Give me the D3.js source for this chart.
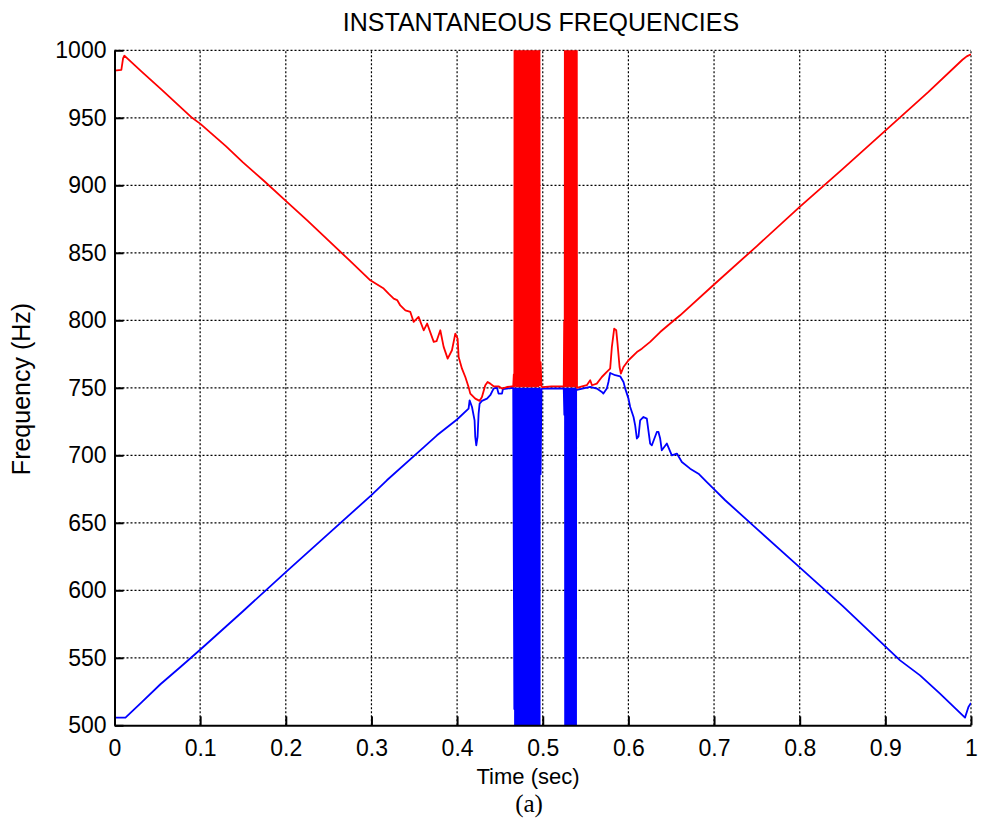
<!DOCTYPE html>
<html>
<head>
<meta charset="utf-8">
<script src="https://cdn.jsdelivr.net/npm/d3@7"></script>
<style>
  html, body { margin: 0; padding: 0; background: #fff; }
  svg { display: block; }
  .tick text { font-family: "Liberation Sans", Arial, sans-serif; }
</style>
</head>
<body>
<svg id="chart" width="981" height="828"></svg>
<script>
// Time axis ticks and frequency axis ticks
const xTicks = [0, 0.1, 0.2, 0.3, 0.4, 0.5, 0.6, 0.7, 0.8, 0.9, 1];
const yTicks = [500, 550, 600, 650, 700, 750, 800, 850, 900, 950, 1000];

// Upper instantaneous-frequency estimate (red)
const redTime = [
  0.000, 0.008, 0.010, 0.0115, 0.032, 0.0556, 0.0906, 0.1003, 0.130, 0.150,
  0.175, 0.200, 0.225, 0.250, 0.275, 0.2987, 0.3143, 0.320, 0.326, 0.330,
  0.3337, 0.3396, 0.3454, 0.3493, 0.355, 0.361, 0.365, 0.3727, 0.376, 0.3804,
  0.3843, 0.389, 0.394, 0.3979, 0.4006, 0.4018, 0.4057, 0.4096, 0.4134, 0.4154,
  0.4212, 0.4263, 0.429, 0.4329, 0.4356, 0.4387, 0.4426, 0.4484, 0.4524, 0.4582,
  0.4640,
  // first burst
  0.4655, 0.4662, 0.4668, 0.4675, 0.4680, 0.4685, 0.4690, 0.4695, 0.4700, 0.4705,
  0.4710, 0.4715, 0.4720, 0.4725, 0.4730, 0.4735, 0.4740, 0.4745, 0.4750, 0.4755,
  0.4760, 0.4765, 0.4770, 0.4775, 0.4780, 0.4785, 0.4790, 0.4795, 0.4800, 0.4805,
  0.4810, 0.4815, 0.4820, 0.4825, 0.4830, 0.4835, 0.4840, 0.4845, 0.4850, 0.4855,
  0.4860, 0.4865, 0.4870, 0.4875, 0.4880, 0.4885, 0.4890, 0.4895, 0.4900, 0.4905,
  0.4910, 0.4915, 0.4920, 0.4925, 0.4930, 0.4935, 0.4940, 0.4945, 0.4950, 0.4955,
  0.4965, 0.4975, 0.4985, 0.4995,
  // between bursts
  0.510, 0.520, 0.5235, 0.5245,
  // second burst
  0.5250, 0.5256, 0.5262, 0.5267, 0.5272, 0.5277, 0.5282, 0.5287, 0.5292, 0.5297,
  0.5302, 0.5307, 0.5312, 0.5317, 0.5322, 0.5327, 0.5332, 0.5337, 0.5342, 0.5347,
  0.5352, 0.5357, 0.5362, 0.5367, 0.5372, 0.5377, 0.5382, 0.5387, 0.5392, 0.5400,
  // after the crossing
  0.5438, 0.5514, 0.5554, 0.5575, 0.5631, 0.569, 0.5748, 0.5787, 0.5807, 0.5834,
  0.5858, 0.5873, 0.5897, 0.5912, 0.5943, 0.6001, 0.6099, 0.6157, 0.6254, 0.6371,
  0.6488, 0.6604, 0.700, 0.750, 0.800, 0.850, 0.900, 0.950, 0.990, 0.995, 1.000
];
const redFreq = [
  985, 985.5, 994, 996, 984, 970.5, 950, 945.5, 929, 917,
  903, 888.5, 874, 859, 844, 829.6, 823.5, 819.8, 816.1, 815,
  811, 807.4, 806.2, 798.8, 802.5, 792.6, 797.6, 784, 784.5, 792.6,
  780.3, 771.6, 777.8, 790.1, 786.5, 772.8, 764.2, 758, 750.6, 745.7,
  742, 740.3, 743.2, 751.9, 754.3, 753.1, 751.1, 751.1, 749.4, 750.6,
  751.1,
  751, 760, 751, 1600, 752, 1600, 751, 1600, 752, 1600,
  751, 1600, 752, 1600, 751, 1600, 752, 1600, 751, 1600,
  752, 1600, 751, 1600, 752, 1600, 751, 1600, 752, 1600,
  751, 1600, 752, 1600, 751, 1600, 752, 1600, 751, 1600,
  752, 1600, 751, 1600, 752, 1600, 751, 1600, 752, 1600,
  751, 1600, 752, 1600, 751, 1600, 752, 1600, 751, 1600,
  752, 769, 751, 750.5,
  751, 751, 751, 751,
  799, 751, 1600, 751, 1600, 752, 1600, 751, 1600, 752,
  1600, 751, 1600, 752, 1600, 751, 1600, 752, 1600, 751,
  1600, 752, 1600, 751, 1600, 752, 1600, 751, 1600, 750,
  750.6, 751.9, 755.6, 751.9, 753.1, 758, 761.8, 764.2, 780.3, 793.8,
  792.6, 782.7, 765.4, 760.5, 765.4, 770.4, 776.5, 779, 784, 791.3,
  797.6, 803.7, 826.5, 855, 884, 912, 940.5, 969, 993, 995.5, 997
];

// Lower instantaneous-frequency estimate (blue)
const blueTime = [
  0.000, 0.0128, 0.0322, 0.0536, 0.077, 0.100, 0.150, 0.200, 0.250, 0.300,
  0.318, 0.357, 0.3765, 0.3999, 0.4134, 0.4146, 0.4174, 0.4204, 0.4212, 0.4224,
  0.4239, 0.4251, 0.4263, 0.429, 0.4349, 0.4387, 0.4426, 0.4466, 0.4484, 0.4524,
  0.4535, 0.4582, 0.4655,
  // first burst
  0.4668, 0.4675, 0.4680, 0.4685, 0.4690, 0.4695, 0.4700, 0.4705, 0.4710, 0.4715,
  0.4720, 0.4725, 0.4730, 0.4735, 0.4740, 0.4745, 0.4750, 0.4755, 0.4760, 0.4765,
  0.4770, 0.4775, 0.4780, 0.4785, 0.4790, 0.4795, 0.4800, 0.4805, 0.4810, 0.4815,
  0.4820, 0.4825, 0.4830, 0.4835, 0.4840, 0.4845, 0.4850, 0.4855, 0.4860, 0.4865,
  0.4870, 0.4875, 0.4880, 0.4885, 0.4890, 0.4895, 0.4900, 0.4905, 0.4910, 0.4915,
  0.4920, 0.4925, 0.4930, 0.4935, 0.4940, 0.4945, 0.4950, 0.4955, 0.4960, 0.4965,
  0.4975, 0.4985, 0.4995,
  // between bursts
  0.510, 0.520, 0.5245,
  // second burst
  0.5252, 0.5260, 0.5265, 0.5270, 0.5275, 0.5280, 0.5285, 0.5290, 0.5295, 0.5300,
  0.5305, 0.5310, 0.5315, 0.5320, 0.5325, 0.5330, 0.5335, 0.5340, 0.5345, 0.5350,
  0.5355, 0.5360, 0.5365, 0.5370, 0.5375, 0.5380, 0.5385, 0.5390, 0.5400,
  // after the crossing
  0.5554, 0.5631, 0.569, 0.5708, 0.5748, 0.5767, 0.5787, 0.5846, 0.5904, 0.5943,
  0.5963, 0.6001, 0.6021, 0.606, 0.6079, 0.6099, 0.6118, 0.6137, 0.6176, 0.6215,
  0.6254, 0.6274, 0.6332, 0.6351, 0.6371, 0.639, 0.6449, 0.6507, 0.6566, 0.6624,
  0.6721, 0.6818, 0.6916, 0.6993, 0.713, 0.750, 0.800, 0.850, 0.9172, 0.9405,
  0.9638, 0.993, 0.997, 1.000
];
const blueFreq = [
  505.7, 505.7, 517.3, 530.4, 543.2, 556, 584.5, 613.5, 642, 670.5,
  681.5, 703.7, 714.8, 726.5, 734.6, 740.7, 735.8, 725.9, 713.6, 707.4,
  713.6, 730.9, 738.3, 740.3, 742, 744.5, 749.4, 750.1, 745.7, 745.7,
  749, 749.4, 750,
  512, 749.5, -200, 749.5, -200, 749, -200, 749.5, -200, 749,
  -200, 749.5, -200, 749, -200, 749.5, -200, 749, -200, 749.5,
  -200, 749, -200, 749.5, -200, 749, -200, 749.5, -200, 749,
  -200, 749.5, -200, 749, -200, 749.5, -200, 749, -200, 749.5,
  -200, 749, -200, 749.5, -200, 749, -200, 749.5, -200, 749,
  -200, 749.5, -200, 749, -200, 749.5, -200, 749, -200, 749.5,
  686, 749, 749.5,
  749.5, 749.5, 749.5,
  730, 749.5, -200, 749, -200, 749.5, -200, 749, -200, 749.5,
  -200, 749, -200, 749.5, -200, 749, -200, 749.5, -200, 749,
  -200, 749.5, -200, 749, -200, 749.5, -200, 749, 748.5,
  750.6, 749.4, 746.9, 745.7, 749.4, 754.3, 761, 759.3, 758.5, 754.3,
  749.4, 742, 735.8, 728.4, 722.2, 712.4, 714, 725.9, 728.4, 727.2,
  708.7, 707.4, 717.3, 717.3, 712.4, 703.7, 708.7, 700, 701.3, 695,
  690.1, 686.4, 680.2, 675.3, 666.7, 645.5, 617, 588.5, 548.1, 537,
  523.5, 505.7, 513.6, 516.6
];

const svg = d3.select("#chart");
const x = d3.scaleLinear().domain([0, 1]).range([114.5, 971]);
const y = d3.scaleLinear().domain([500, 1000]).range([725.3, 50.3]);
const font = "'Liberation Sans', Arial, sans-serif";

// clip region for the plot area
svg.append("defs").append("clipPath").attr("id", "plot-clip")
  .append("rect")
  .attr("x", x(0)).attr("y", y(1000))
  .attr("width", x(1) - x(0)).attr("height", y(500) - y(1000));

// dotted grid (also forms the top and right edges)
const grid = svg.append("g").attr("stroke", "#000").attr("stroke-width", 1.2)
  .attr("stroke-dasharray", "2,2");
grid.selectAll("line.v").data(xTicks.filter(d => d > 0)).join("line")
  .attr("class", "v")
  .attr("x1", d => x(d)).attr("x2", d => x(d))
  .attr("y1", y(500)).attr("y2", y(1000));
grid.selectAll("line.h").data(yTicks.filter(d => d > 500)).join("line")
  .attr("class", "h")
  .attr("x1", x(0)).attr("x2", x(1))
  .attr("y1", d => y(d)).attr("y2", d => y(d));

// frequency traces
const line = d3.line().x(d => x(d[0])).y(d => y(d[1]));
const plot = svg.append("g").attr("clip-path", "url(#plot-clip)");
plot.append("path")
  .datum(blueTime.map((t, i) => [t, blueFreq[i]]))
  .attr("fill", "none").attr("stroke", "#0000ff").attr("stroke-width", 1.8)
  .attr("stroke-linejoin", "round")
  .attr("d", line);
plot.append("path")
  .datum(redTime.map((t, i) => [t, redFreq[i]]))
  .attr("fill", "none").attr("stroke", "#ff0000").attr("stroke-width", 1.8)
  .attr("stroke-linejoin", "round")
  .attr("d", line);

// axes with inward ticks
const xAxis = svg.append("g")
  .attr("transform", `translate(0,${y(500)})`)
  .call(d3.axisBottom(x).tickValues(xTicks).tickFormat(d3.format("~g"))
    .tickSizeInner(-9).tickSizeOuter(0).tickPadding(14));
const yAxis = svg.append("g")
  .attr("transform", `translate(${x(0)},0)`)
  .call(d3.axisLeft(y).tickValues(yTicks).tickFormat(d3.format("d"))
    .tickSizeInner(-9).tickSizeOuter(0).tickPadding(8));
[xAxis, yAxis].forEach(g => {
  g.select(".domain").attr("stroke", "#000").attr("stroke-width", 2);
  g.selectAll(".tick line").attr("stroke", "#000").attr("stroke-width", 2);
  g.selectAll(".tick text").attr("fill", "#000")
    .style("font-family", font).style("font-size", "23px");
});

// titles
svg.append("text").attr("x", 541).attr("y", 31)
  .attr("text-anchor", "middle").style("font-family", font).style("font-size", "25px")
  .text("INSTANTANEOUS FREQUENCIES");
svg.append("text").attr("x", 528).attr("y", 784)
  .attr("text-anchor", "middle").style("font-family", font).style("font-size", "22px")
  .text("Time (sec)");
svg.append("text").attr("transform", "translate(30,389) rotate(-90)")
  .attr("text-anchor", "middle").style("font-family", font).style("font-size", "25px")
  .text("Frequency (Hz)");
svg.append("text").attr("x", 529).attr("y", 812)
  .attr("text-anchor", "middle")
  .style("font-family", "'Liberation Serif', 'Times New Roman', serif").style("font-size", "25px")
  .text("(a)");
</script>
</body>
</html>
